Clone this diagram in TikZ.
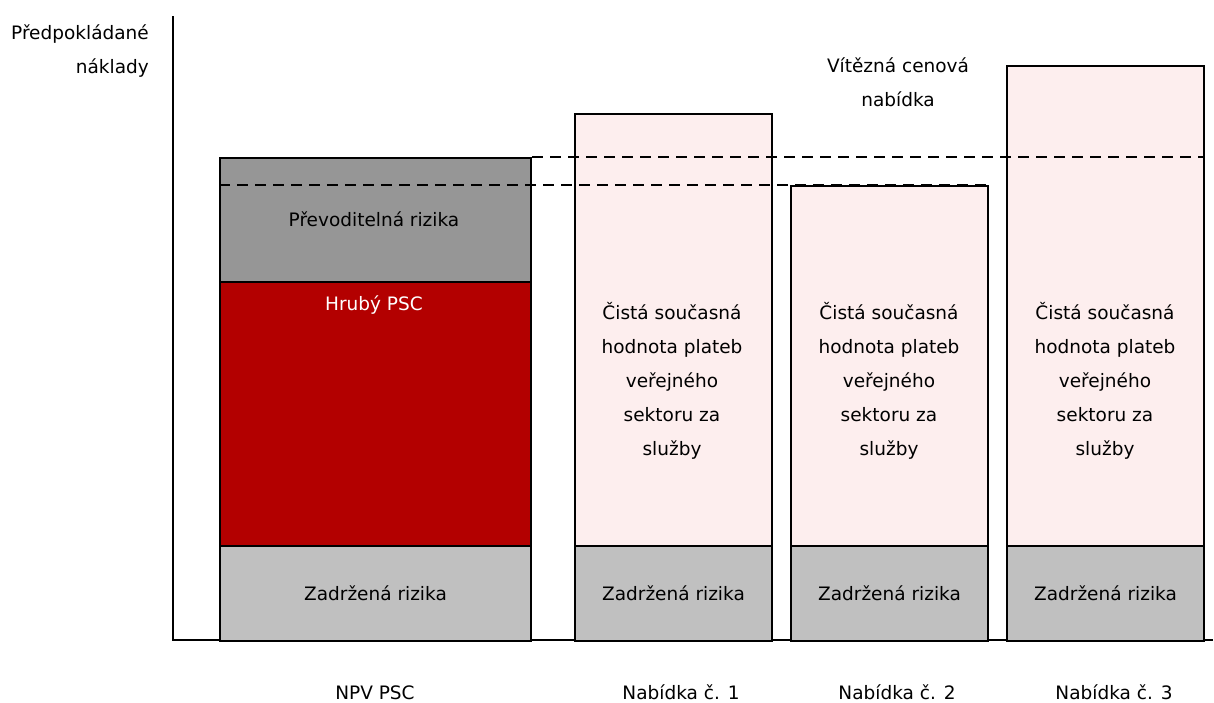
\documentclass[tikz,border=0pt]{standalone}
\usepackage{fontspec}
\setmainfont{DejaVu Sans}
\usetikzlibrary{positioning}

\definecolor{transgray}{HTML}{969696}
\definecolor{retgray}{HTML}{C0C0C0}
\definecolor{pscred}{HTML}{B30000}
\definecolor{bidpink}{HTML}{FDEEEE}

\tikzset{
  seg/.style={draw, line width=2pt, anchor=north west, inner sep=0pt},
  lbl/.style={align=center, inner sep=0pt},
  level/.style={dashed, line width=2pt, dash pattern=on 11pt off 7pt}
}

\begin{document}
\begin{tikzpicture}[x=1pt, y=-1pt, font=\fontsize{18.5}{34}\selectfont]

    \useasboundingbox (0,0) rectangle (1214,702);

    % Axes
    \coordinate (ytop) at (173,16);
    \coordinate (origin) at (173,640);
    \coordinate (xend) at (1213,640);
    \draw[line width=2pt] (ytop) -- (origin) -- (xend);
    \node[lbl, align=right, anchor=north east] (ylabel) at (149,24) {Předpokládané\\náklady};

    % NPV PSC
    \node[seg, fill=transgray, minimum width=311, minimum height=124] (trans) at (219,157) {};
    \node[seg, fill=pscred, minimum width=311, minimum height=264] (gross) at (219,281) {};
    \node[seg, fill=retgray, minimum width=311, minimum height=95] (ret0) at (219,545) {};

    % Bids
    \node[seg, fill=bidpink, minimum width=197, minimum height=432] (bid1) at (574,113) {};
    \node[seg, fill=retgray, minimum width=197, minimum height=95] (ret1) at (574,545) {};
    \node[seg, fill=bidpink, minimum width=197, minimum height=360] (bid2) at (790,185) {};
    \node[seg, fill=retgray, minimum width=197, minimum height=95] (ret2) at (790,545) {};
    \node[seg, fill=bidpink, minimum width=197, minimum height=480] (bid3) at (1006,65) {};
    \node[seg, fill=retgray, minimum width=197, minimum height=95] (ret3) at (1006,545) {};

    % Levels
    \draw[level] (trans.north east) -- (trans.north east -| bid3.east);
    \draw[level] (trans.west |- bid2.north) -- (bid2.north east);

    % Texts in the bars
    \node[lbl] (transtext) at (374,219) {Převoditelná rizika};
    \node[lbl, text=white] (grosstext) at (374,305) {Hrubý PSC};
    \node[lbl] (ret0text) at (ret0) {Zadržená rizika};
    \node[lbl] (ret1text) at (ret1) {Zadržená rizika};
    \node[lbl] (ret2text) at (ret2) {Zadržená rizika};
    \node[lbl] (ret3text) at (ret3) {Zadržená rizika};
    \node[lbl] (bid1text) at (672,381) {Čistá současná\\hodnota plateb\\veřejného\\sektoru za\\služby};
    \node[lbl] (bid2text) at (889,381) {Čistá současná\\hodnota plateb\\veřejného\\sektoru za\\služby};
    \node[lbl] (bid3text) at (1105,381) {Čistá současná\\hodnota plateb\\veřejného\\sektoru za\\služby};
    \node[lbl] (wintext) at (898,82) {Vítězná cenová\\nabídka};

    % Labels below
    \node[lbl, anchor=base] (npvlabel) at (375,699) {NPV PSC};
    \node[lbl, anchor=base] (bid1label) at (681,699) {Nabídka č. 1};
    \node[lbl, anchor=base] (bid2label) at (897,699) {Nabídka č. 2};
    \node[lbl, anchor=base] (bid3label) at (1114,699) {Nabídka č. 3};

\end{tikzpicture}
\end{document}
